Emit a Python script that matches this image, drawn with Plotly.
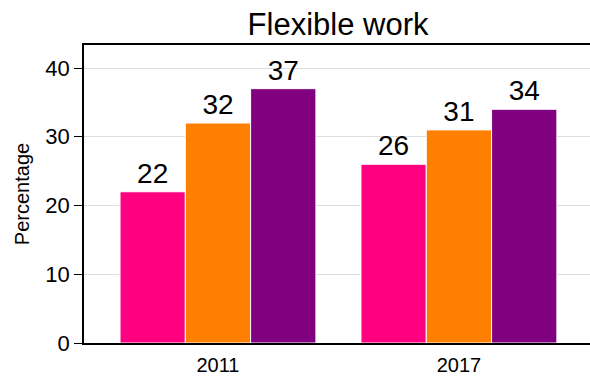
import plotly.graph_objects as go

# Survey years and the share reporting each flexible-work measure
years = ["2011", "2017"]
series_a = [22, 26]
series_b = [32, 31]
series_c = [37, 34]
colors = ["#FF0080", "#FF8000", "#800080"]
y_ticks = [0, 10, 20, 30, 40]

FONT = "Liberation Sans, Arial, Helvetica, sans-serif"

fig = go.Figure()
for vals, col in zip([series_a, series_b, series_c], colors):
    fig.add_trace(go.Bar(
        x=years,
        y=vals,
        marker=dict(color=col, line=dict(color="white", width=1)),
        text=[f"{v:.0f}" for v in vals],
        textposition="outside",
        textfont=dict(family=FONT, size=28, color="black"),
        cliponaxis=False,
        showlegend=False,
    ))

fig.update_layout(
    width=590,
    height=376,
    margin=dict(l=84, r=0, t=45, b=33),
    paper_bgcolor="white",
    plot_bgcolor="white",
    barmode="group",
    bargap=0.187,
    bargroupgap=0,
    title=dict(text="Flexible work", x=0.573, xanchor="center",
               yref="container", y=0.936, yanchor="middle",
               font=dict(family=FONT, size=31, color="black")),
    font=dict(family=FONT, color="black"),
)

fig.update_xaxes(
    type="category",
    range=[-0.556, 1.544],
    showline=True,
    linecolor="black",
    linewidth=1.5,
    mirror=True,
    ticks="",
    showgrid=False,
    ticklabelstandoff=3,
    tickfont=dict(family=FONT, size=20, color="black"),
)

fig.update_yaxes(
    range=[0, 43.35],
    tickvals=y_ticks,
    showline=True,
    linecolor="black",
    linewidth=1.5,
    ticks="outside",
    ticklen=8,
    tickcolor="black",
    tickwidth=1,
    showgrid=True,
    gridcolor="#DDDDDD",
    gridwidth=1,
    zeroline=False,
    tickfont=dict(family=FONT, size=22, color="black"),
    title=dict(text="Percentage", font=dict(family=FONT, size=20, color="black"), standoff=10),
)

fig.write_html("out.html")
